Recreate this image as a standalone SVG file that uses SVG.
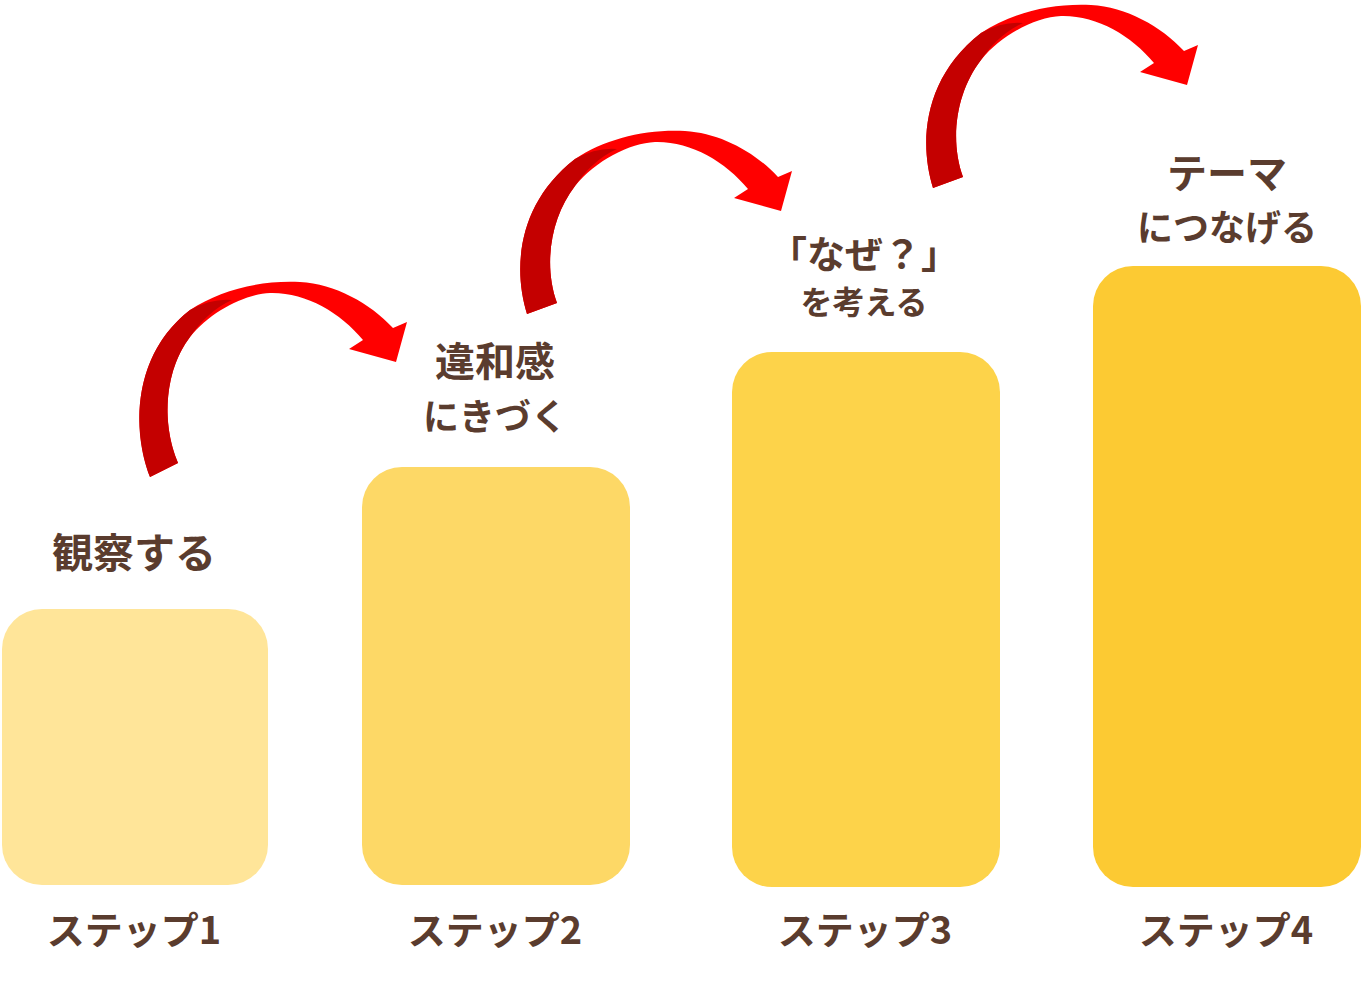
<svg xmlns="http://www.w3.org/2000/svg" xmlns:xlink="http://www.w3.org/1999/xlink" width="1361" height="981" viewBox="0 0 1361 981">
<style>
.lbl{font-family:"Noto Sans CJK JP","Noto Sans",sans-serif;font-weight:700;fill:#5a3c2e;text-anchor:middle}
.red{fill:#ff0000}
.dark{fill:#c40000}
</style>
<defs>
<g id="arrow">
<path class="red" d="M150,477 C132,430 132,355 190,310 C220,290 260,280 300,282 C335,284 370,303 393,328 L407,322 L396,362 L349,349 L363,340 C340,312 305,292 270,293 C245,294 210,312 190,337 C166,368 160,420 178,463 Z"/>
<path class="dark" d="M150,477 C132,430 132,355 190,310 Q212,298 232,300 C214,308 200,322 190,337 C166,368 160,420 178,463 Z"/>
</g>
<g id="arrowB">
<path class="red" d="M142,465 C128,420 132,355 190,310 C220,290 260,280 300,282 C335,284 370,303 393,328 L407,322 L396,362 L349,349 L363,340 C340,312 305,292 270,293 C245,294 210,312 190,337 C166,368 158,415 172,454 Z"/>
<path class="dark" d="M142,465 C128,420 132,355 190,310 Q212,298 232,300 C214,308 200,322 190,337 C166,368 158,415 172,454 Z"/>
</g>
</defs>
<rect width="1361" height="981" fill="#ffffff"/>
<g id="connectors">
<use xlink:href="#arrow"/>
<use xlink:href="#arrowB" transform="translate(385,-151)"/>
<use xlink:href="#arrowB" transform="translate(791,-277)"/>
</g>
<g id="step1">
<rect x="2" y="609" width="266" height="276" rx="40" fill="#ffe599"/>
<text class="lbl" x="134" y="568" font-size="41">観察する</text>
<text class="lbl" x="134" y="944" font-size="38">ステップ1</text>
</g>
<g id="step2">
<rect x="362" y="467" width="268" height="418" rx="40" fill="#fdd866"/>
<text class="lbl" x="495" y="376" font-size="40">違和感</text>
<text class="lbl" x="495" y="430" font-size="36">にきづく</text>
<text class="lbl" x="495" y="944" font-size="38">ステップ2</text>
</g>
<g id="step3">
<rect x="732" y="352" width="268" height="535" rx="40" fill="#fdd34a"/>
<text class="lbl" x="864" y="268" font-size="38">「なぜ？」</text>
<text class="lbl" x="864" y="314" font-size="32">を考える</text>
<text class="lbl" x="865" y="944" font-size="38">ステップ3</text>
</g>
<g id="step4">
<rect x="1093" y="266" width="268" height="621" rx="40" fill="#fcca33"/>
<text class="lbl" x="1227" y="188" font-size="40">テーマ</text>
<text class="lbl" x="1227" y="241" font-size="36">につなげる</text>
<text class="lbl" x="1226" y="944" font-size="38">ステップ4</text>
</g>
</svg>
